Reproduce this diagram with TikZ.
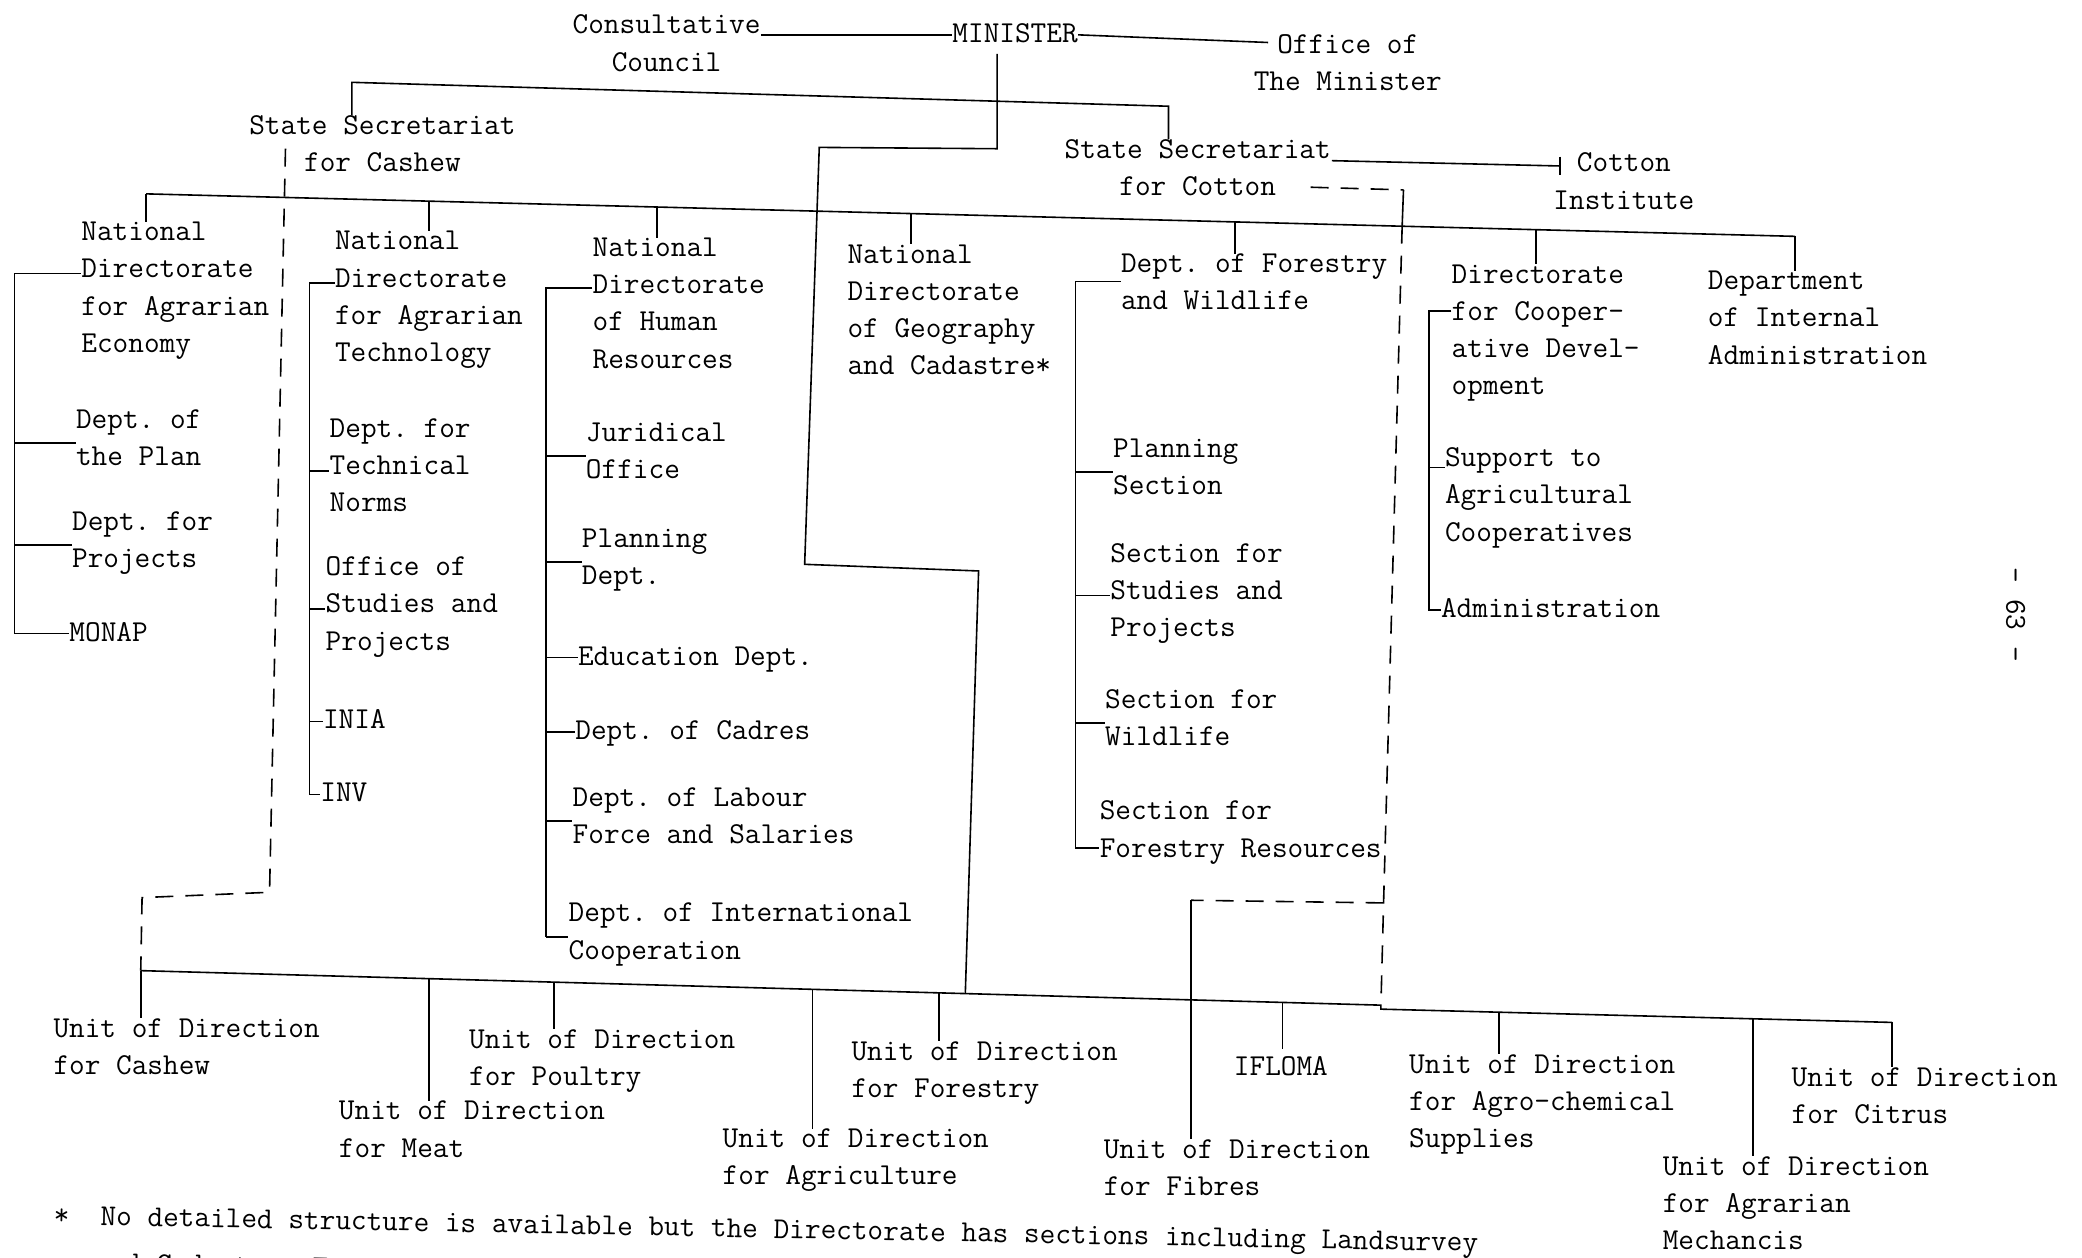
\documentclass[tikz,border=0pt]{standalone}
\usetikzlibrary{calc}
\newcommand\twfont{\ttfamily\frenchspacing\fontsize{15.2}{18.6}\selectfont}
\tikzset{
  lab/.style={anchor=north west, align=left, inner sep=0pt, font=\twfont, yshift=-4.6pt,
    execute at begin node=\strut, execute at end node=\strut},
  labc/.style={lab, anchor=north, align=center},
  ln/.style={line width=0.8pt, black},
  dsh/.style={line width=0.8pt, black, dash pattern=on 9pt off 6pt},
}
\begin{document}
\begin{tikzpicture}[x=0.6639pt, y=-0.6639pt]
\useasboundingbox (0,0) rectangle (1568,947);
\clip (0,0) rectangle (1568,947);

% ---------- top level ----------
\node[labc] (cons) at (502,4) {Consultative\\Council};
\node[lab]  (min)  at (717,5) {MINISTER};
\node[labc] (off)  at (1015,19) {Office of\\The Minister};
\node[labc] (ssc)  at (288,80) {State Secretariat\\for Cashew};
\node[labc] (sst)  at (902,98) {State Secretariat\\for Cotton};
\node[labc] (cot)  at (1223,108) {Cotton\\Institute};

\draw[ln] (cons.east |- min.west) -- (min.west);
\coordinate (offin) at (955,32);
\draw[ln] (min.east) -- (offin);

% minister spine down to the units of direction
\coordinate (m1) at (751,112);
\coordinate (m2) at (617,111);
\coordinate (m3) at (606,425);
\coordinate (m4) at (737,430);
\coordinate (m5) at (727,748);
\draw[ln] (min.south -| m1) -- (m1) -- (m2) -- (m3) -- (m4) -- (m5);

% state secretariats bar
\coordinate (tb1) at (265,62);
\coordinate (tb2) at (880,80);
\draw[ln] (tb1 |- ssc.north) -- (tb1) -- (tb2) -- (tb2 |- sst.north);

% cotton institute
\coordinate (ci1) at (1003,121);
\coordinate (ci2) at (1175,125);
\coordinate (ci3) at (1175,118);
\coordinate (ci4) at (1175,132);
\draw[ln] (ci1) -- (ci2);
\draw[ln] (ci3) -- (ci4);

% ---------- directorates ----------
\node[lab] (dae) at (61,160)  {National\\Directorate\\for Agrarian\\Economy};
\node[lab] (dat) at (252,167) {National\\Directorate\\for Agrarian\\Technology};
\node[lab] (dhr) at (446,172) {National\\Directorate\\of Human\\Resources};
\node[lab] (dgc) at (638,177) {National\\Directorate\\of Geography\\and Cadastre*};
\node[lab] (dfw) at (844,184) {Dept. of Forestry\\and Wildlife};
\node[lab] (dco) at (1093,192) {Directorate\\for Cooper-\\ative Devel-\\opment};
\node[lab] (dia) at (1286,197) {Department\\of Internal\\Administration};

\coordinate (db1) at (110,146);
\coordinate (db2) at (1352,178);
\draw[ln] (db1) -- (db2);
\coordinate (dd1) at (110,146);
\coordinate (dd2) at (323,151.5);
\coordinate (dd3) at (495,155.9);
\coordinate (dd4) at (686,160.8);
\coordinate (dd5) at (930,167.1);
\coordinate (dd6) at (1157,173);
\coordinate (dd7) at (1352,178);
\foreach \c/\n in {dd1/dae,dd2/dat,dd3/dhr,dd4/dgc,dd5/dfw,dd6/dco,dd7/dia}
  \draw[ln] (\c) -- (\c |- \n.north);

% agrarian economy
\node[lab] (aePlan) at (57,301) {Dept. of\\the Plan};
\node[lab] (aeProj) at (54,378) {Dept. for\\Projects};
\node[lab] (monap)  at (52,456) {MONAP};
\coordinate (aeT) at (11,206);
\draw[ln] (aeT -| dae.west) -- (aeT) -- (aeT |- monap.west);
\foreach \n in {aePlan,aeProj} \draw[ln] (aeT |- \n.west) -- (\n.west);
\draw[line width=0.5pt] (aeT |- monap.west) -- (monap.west);

% agrarian technology
\node[lab] (atNorms) at (248,308) {Dept. for\\Technical\\Norms};
\node[lab] (atStud)  at (245,412) {Office of\\Studies and\\Projects};
\node[lab] (inia)    at (243,522) {INIA};
\node[lab] (inv)     at (241,577) {INV};
\coordinate (atT) at (233,213);
\draw[ln] (atT -| dat.west) -- (atT) -- (atT |- inv.west);
\foreach \n in {atNorms,atStud,inia,inv} \draw[ln] (atT |- \n.west) -- (\n.west);

% human resources
\node[lab] (hrJur)  at (441,311) {Juridical\\Office};
\node[lab] (hrPlan) at (438,391) {Planning\\Dept.};
\node[lab] (hrEdu)  at (435,474) {Education Dept.};
\node[lab] (hrCad)  at (433,530) {Dept. of Cadres};
\node[lab] (hrLab)  at (431,586) {Dept. of Labour\\Force and Salaries};
\node[lab] (hrInt)  at (428,673) {Dept. of International\\Cooperation};
\coordinate (hrT) at (411,217);
\draw[ln] (hrT -| dhr.west) -- (hrT) -- (hrT |- hrInt.west);
\foreach \n in {hrJur,hrPlan,hrEdu,hrCad,hrLab,hrInt} \draw[ln] (hrT |- \n.west) -- (\n.west);

% forestry and wildlife
\node[lab] (fwPlan) at (838,323) {Planning\\Section};
\node[lab] (fwStud) at (836,402) {Section for\\Studies and\\Projects};
\node[lab] (fwWild) at (832,512) {Section for\\Wildlife};
\node[lab] (fwRes)  at (828,596) {Section for\\Forestry Resources};
\coordinate (fwT) at (810,212);
\coordinate (fwR) at ($(fwRes.west)+(0,10)$);
\draw[ln] (fwT -| dfw.west) -- (fwT) -- (fwT |- fwR) -- (fwR);
\foreach \n in {fwPlan,fwStud,fwWild} \draw[ln] (fwT |- \n.west) -- (\n.west);

% cooperative development
\node[lab] (coSup) at (1088,330) {Support to\\Agricultural\\Cooperatives};
\node[lab] (coAdm) at (1085,438) {Administration};
\coordinate (coT) at (1076,234);
\coordinate (coS) at ($(coSup.north west)+(0,15)$);
\draw[ln] (coT -| dco.west) -- (coT) -- (coT |- coAdm.west) -- (coAdm.west);
\draw[ln] (coT |- coS) -- (coS);

% ---------- units of direction ----------
\node[lab] (uCashew)   at (40,760)   {Unit of Direction\\for Cashew};
\node[lab] (uMeat)     at (255,822)  {Unit of Direction\\for Meat};
\node[lab] (uPoultry)  at (353,768)  {Unit of Direction\\for Poultry};
\node[lab] (uAgri)     at (544,843)  {Unit of Direction\\for Agriculture};
\node[lab] (uForestry) at (641,777)  {Unit of Direction\\for Forestry};
\node[lab] (uFibres)   at (831,851)  {Unit of Direction\\for Fibres};
\node[lab] (ifloma)    at (929,783)  {IFLOMA};
\node[lab] (uAgro)     at (1061,787) {Unit of Direction\\for Agro-chemical\\Supplies};
\node[lab] (uMech)     at (1252,864) {Unit of Direction\\for Agrarian\\Mechancis};
\node[lab] (uCitrus)   at (1349,797) {Unit of Direction\\for Citrus};

\coordinate (bb1) at (106,731);
\coordinate (bb2) at (1040,757);
\coordinate (bb3) at (1040,760);
\coordinate (bb4) at (1425,770);
\draw[ln] (bb1) -- (bb2) -- (bb3) -- (bb4);
\coordinate (bd2) at (323,737);
\coordinate (bd3) at (417,739.7);
\coordinate (bd4) at (612,745.1);
\coordinate (bd5) at (707,747.7);
\coordinate (bd7) at (966,754.9);
\coordinate (bd8) at (1129,762.3);
\coordinate (bd9) at (1320,767.3);
\coordinate (bd10) at (1425,770);
\foreach \c/\n in {bb1/uCashew,bd2/uMeat,bd3/uPoultry,bd4/uAgri,bd5/uForestry,bd7/ifloma,bd8/uAgro,bd9/uMech,bd10/uCitrus}
  \draw[ln] (\c) -- (\c |- \n.north);

% cashew secretariat dashed line
\coordinate (ca1) at (215,112);
\coordinate (ca2) at (203,672);
\coordinate (ca3) at (107,676);
\draw[dsh] (ca1) -- (ca2) -- (ca3) -- (bb1);

% cotton secretariat dashed line
\coordinate (co1) at (987,141);
\coordinate (co2) at (1057,143);
\coordinate (co3) at (1056,170);
\coordinate (co4) at (1042,680);
\coordinate (fb1) at (897,678);
\draw[dsh] (co1) -- (co2);
\draw[ln] (co2) -- (co3);
\draw[dsh] (co3) -- (co4) -- (bb2);
\draw[dsh] (co4) -- (fb1);
\draw[ln] (fb1) -- (fb1 |- uFibres.north);

% ---------- footnote and page number ----------
\node[anchor=base west, inner sep=0pt, font=\twfont, rotate=-1.1] (fn1) at (40,922)
  {*\ \ No detailed structure is available but the Directorate has sections including Landsurvey};
\node[anchor=base west, inner sep=0pt, font=\twfont, rotate=-1.1] (fn2) at (70,958)
  {and Cadastre, Tematic Mapping};
\node[inner sep=0pt, font=\twfont, rotate=-90] (pg) at (1518,463) {- 63 -};
\end{tikzpicture}
\end{document}
